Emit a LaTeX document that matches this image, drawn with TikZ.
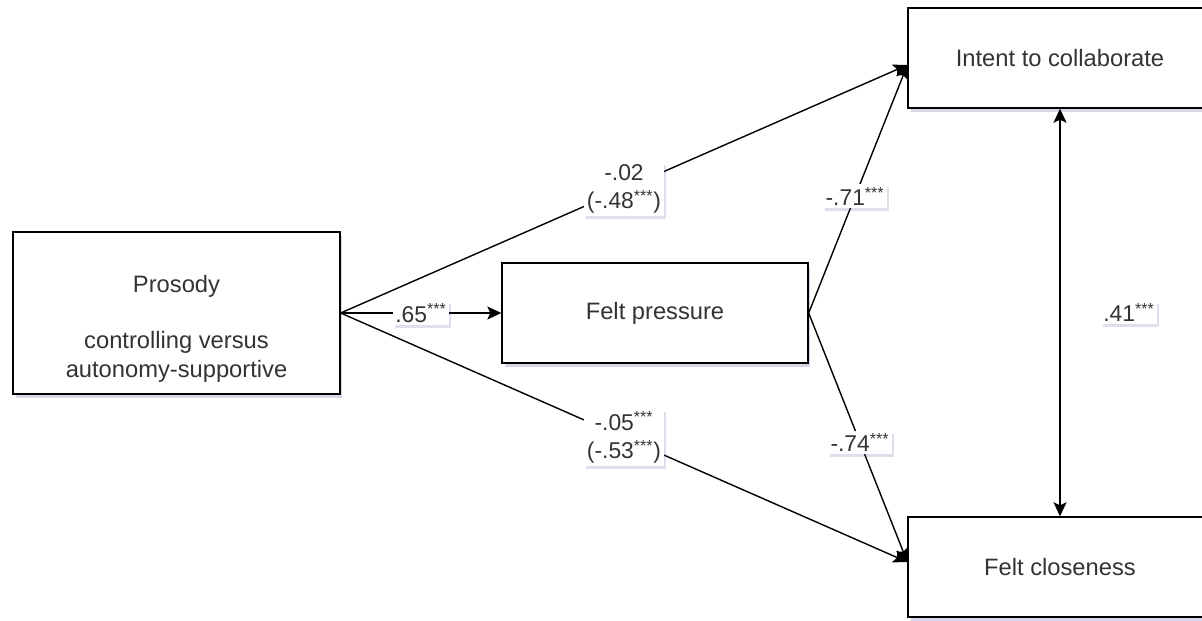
\documentclass[tikz,border=0pt]{standalone}
\usepackage{fontspec}
\setmainfont{Liberation Sans}
\definecolor{textgrey}{HTML}{333333}
\definecolor{shadowblue}{HTML}{4A4A9A}
\usetikzlibrary{arrows.meta, positioning, shadows}
\newcommand{\pstar}{\textsuperscript{***}}

\tikzset{
  varbox/.style = {rectangle, draw = black, line width = 0.8pt, fill = white, text = textgrey, font = \fontsize{13.5}{16.2}\selectfont, align = center, minimum height = 2cm, drop shadow = {shadow xshift = 0.5mm, shadow yshift = -0.8mm, fill = shadowblue, opacity = 0.22}},
  coef/.style = {rectangle, fill = white, text = textgrey, font = \fontsize{13}{16.2}\selectfont, align = center, inner sep = 1.5pt, drop shadow = {shadow xshift = 0.4mm, shadow yshift = -0.6mm, fill = shadowblue, opacity = 0.18}},
  link/.style = {line width = 0.8pt, -{Stealth[length = 2.8mm, width = 2.6mm, inset = 0.6mm]}},
  twoway/.style = {line width = 0.8pt, {Stealth[length = 2.8mm, width = 2.6mm, inset = 0.6mm]}-{Stealth[length = 2.8mm, width = 2.6mm, inset = 0.6mm]}}
}

\begin{document}
\begin{tikzpicture}[x = 0.02cm, y = 0.02cm]
\clip (0,0) rectangle (1202,620);
\node[varbox, minimum width = 6.54cm, minimum height = 3.24cm] (prosody) at (176.5,307) {\strut\\Prosody\\\strut\\controlling versus\\autonomy-supportive};
\node[varbox, minimum width = 6.12cm] (pressure) at (655,307) {Felt pressure};
\node[varbox, minimum width = 6.08cm] (intent) at (1060,562) {Intent to collaborate};
\node[varbox, minimum width = 6.08cm] (closeness) at (1060,53) {Felt closeness};
% paths from the manipulation
\draw[link] (prosody) -- node[coef] {.65\pstar} (pressure);
\draw[link] (prosody.east) -- node[coef] {-.02\\(-.48\pstar)} ([yshift=-1.4mm]intent.west);
\draw[link] (prosody.east) -- node[coef] {-.05\pstar\\(-.53\pstar)} ([yshift=1mm]closeness.west);
% paths through the mediator
\draw[link] (pressure.east) -- node[coef, pos = 0.47] {-.71\pstar} ([yshift=-1.4mm]intent.west);
\draw[link] (pressure.east) -- node[coef, pos = 0.52] {-.74\pstar} ([yshift=1mm]closeness.west);
\draw[twoway] (intent) -- node[coef, right = 0.8cm] {.41\pstar} (closeness);
\end{tikzpicture}
\end{document}
